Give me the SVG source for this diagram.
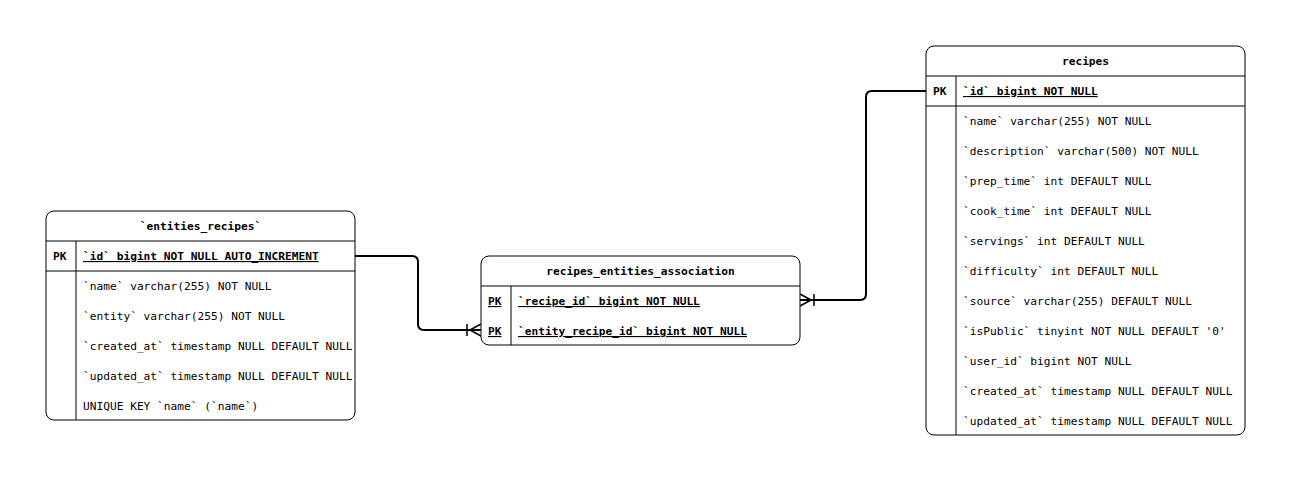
<svg xmlns="http://www.w3.org/2000/svg" width="1291" height="481" viewBox="0 0 1291 481">
<style>
.box{fill:#fff;stroke:#000;stroke-width:1}
.ln{stroke:#000;stroke-width:1;fill:none}
text{font-family:"DejaVu Sans Mono","Liberation Mono",monospace;font-size:11.2px;fill:#000}
.t{font-weight:bold;text-anchor:middle}
.b{font-weight:bold}
.u{text-decoration:underline}
.conn{fill:none;stroke:#000;stroke-width:2}
</style>
<defs>
<marker id="crow" markerUnits="userSpaceOnUse" orient="auto" refX="0" refY="0" markerWidth="20" markerHeight="20" overflow="visible">
<path d="M-14,-6 V6 M-11,0 L0,-6 M-11,0 L0,0 M-11,0 L0,6" fill="none" stroke="#000" stroke-width="1.5"/>
</marker>
</defs>
<g id="connectors">
<path class="conn" d="M355,256 H412 Q418,256 418,262 V324 Q418,330 424,330 H481" marker-end="url(#crow)"/>
<path class="conn" d="M926,91 H872 Q866,91 866,97 V294 Q866,300 860,300 H800" marker-end="url(#crow)"/>
</g>
<g id="entities_recipes">
<rect class="box" x="46" y="211" width="309" height="209" rx="8"/>
<path class="ln" d="M46,241 H355 M46,271 H355 M76,241 V420"/>
<text class="t" x="200.5" y="230">`entities_recipes`</text>
<text class="b" x="53" y="260">PK</text>
<text class="b u" x="83" y="260">`id` bigint NOT NULL AUTO_INCREMENT</text>
<text x="83" y="290">`name` varchar(255) NOT NULL</text>
<text x="83" y="320">`entity` varchar(255) NOT NULL</text>
<text x="83" y="350">`created_at` timestamp NULL DEFAULT NULL</text>
<text x="83" y="380">`updated_at` timestamp NULL DEFAULT NULL</text>
<text x="83" y="410">UNIQUE KEY `name` (`name`)</text>
</g>
<g id="recipes_entities_association">
<rect class="box" x="481" y="256" width="319" height="89" rx="8"/>
<path class="ln" d="M481,286 H800 M511,286 V345"/>
<text class="t" x="640.5" y="275">recipes_entities_association</text>
<text class="b u" x="488" y="305">PK</text>
<text class="b u" x="518" y="305">`recipe_id` bigint NOT NULL</text>
<text class="b u" x="488" y="335">PK</text>
<text class="b u" x="518" y="335">`entity_recipe_id` bigint NOT NULL</text>
</g>
<g id="recipes">
<rect class="box" x="926" y="46" width="319" height="389" rx="8"/>
<path class="ln" d="M926,76 H1245 M926,106 H1245 M956,76 V435"/>
<text class="t" x="1085.5" y="65">recipes</text>
<text class="b" x="933" y="95">PK</text>
<text class="b u" x="963" y="95">`id` bigint NOT NULL</text>
<text x="963" y="125">`name` varchar(255) NOT NULL</text>
<text x="963" y="155">`description` varchar(500) NOT NULL</text>
<text x="963" y="185">`prep_time` int DEFAULT NULL</text>
<text x="963" y="215">`cook_time` int DEFAULT NULL</text>
<text x="963" y="245">`servings` int DEFAULT NULL</text>
<text x="963" y="275">`difficulty` int DEFAULT NULL</text>
<text x="963" y="305">`source` varchar(255) DEFAULT NULL</text>
<text x="963" y="335">`isPublic` tinyint NOT NULL DEFAULT '0'</text>
<text x="963" y="365">`user_id` bigint NOT NULL</text>
<text x="963" y="395">`created_at` timestamp NULL DEFAULT NULL</text>
<text x="963" y="425">`updated_at` timestamp NULL DEFAULT NULL</text>
</g>
</svg>
